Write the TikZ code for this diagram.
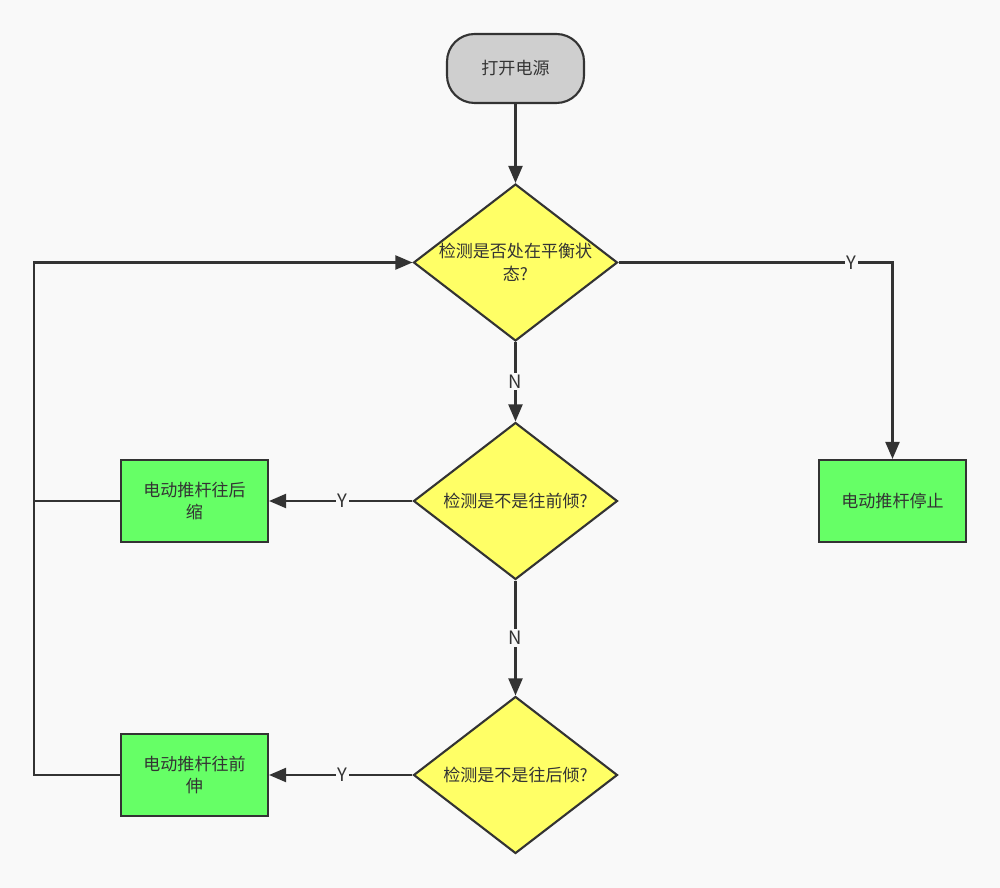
\documentclass[tikz,border=0pt]{standalone}
\usepackage{fontspec}
\setmainfont{Noto Sans CJK SC}
\usetikzlibrary{shapes.geometric,arrows.meta}
\definecolor{bgc}{HTML}{F9F9F9}
\definecolor{linec}{HTML}{333333}
\definecolor{startc}{HTML}{CFCFCF}
\definecolor{askc}{HTML}{FFFF66}
\definecolor{actc}{HTML}{66FF66}

\begin{document}
\begin{tikzpicture}[x=0.02cm,y=-0.02cm,
  every node/.style={text=linec,font=\fontsize{9.7}{13}\selectfont},
  startbox/.style={draw=linec,line width=1.2pt,fill=startc,rounded corners=0.55cm,minimum width=2.74cm,minimum height=1.38cm},
  askbox/.style={draw=linec,line width=1.2pt,fill=askc,diamond,minimum width=4.08cm,minimum height=3.14cm,inner sep=0pt},
  actbox/.style={draw=linec,line width=1.2pt,fill=actc,minimum width=2.94cm,minimum height=1.64cm,align=center},
  arr/.style={draw=linec,line width=1.2pt,-{Triangle[length=0.34cm,width=0.28cm]}},
  lnk/.style={draw=linec,line width=1.2pt},
  yn/.style={fill=bgc,inner sep=1pt,font=\fontsize{10.5}{13}\selectfont}]
\fill[bgc] (0,0) rectangle (1000,888);
\useasboundingbox (0,0) rectangle (1000,888);
\node[startbox] (start) at (515.5,68.5) {打开电源};
\node[askbox,label={[align=center]center:检测是否处在平衡状\\态?}] (balance) at (515.5,262.5) {};
\node[askbox,label={center:检测是不是往前倾?}] (front) at (515.5,501) {};
\node[askbox,label={center:检测是不是往后倾?}] (back) at (515.5,775) {};
\node[actbox] (stop) at (892.5,501) {电动推杆停止};
\node[actbox] (retract) at (194.5,501) {电动推杆往后\\缩};
\node[actbox] (extend) at (194.5,775) {电动推杆往前\\伸};
\coordinate (loop) at (34,775);
\draw[arr] (start) -- (balance);
\draw[arr] (balance) -- node[yn] {N} (front);
\draw[arr] (front) -- node[yn] {N} (back);
\draw[arr] (balance.east) -| node[yn,pos=0.425] {Y} (stop.north);
\draw[arr] (front.west) -- node[yn,pos=0.49] {Y} (retract.east);
\draw[arr] (back.west) -- node[yn,pos=0.49] {Y} (extend.east);
\draw[lnk] (retract.west) -- (retract.west -| loop);
\draw[arr] (extend.west) -- (loop) |- (balance.west);
\end{tikzpicture}
\end{document}
